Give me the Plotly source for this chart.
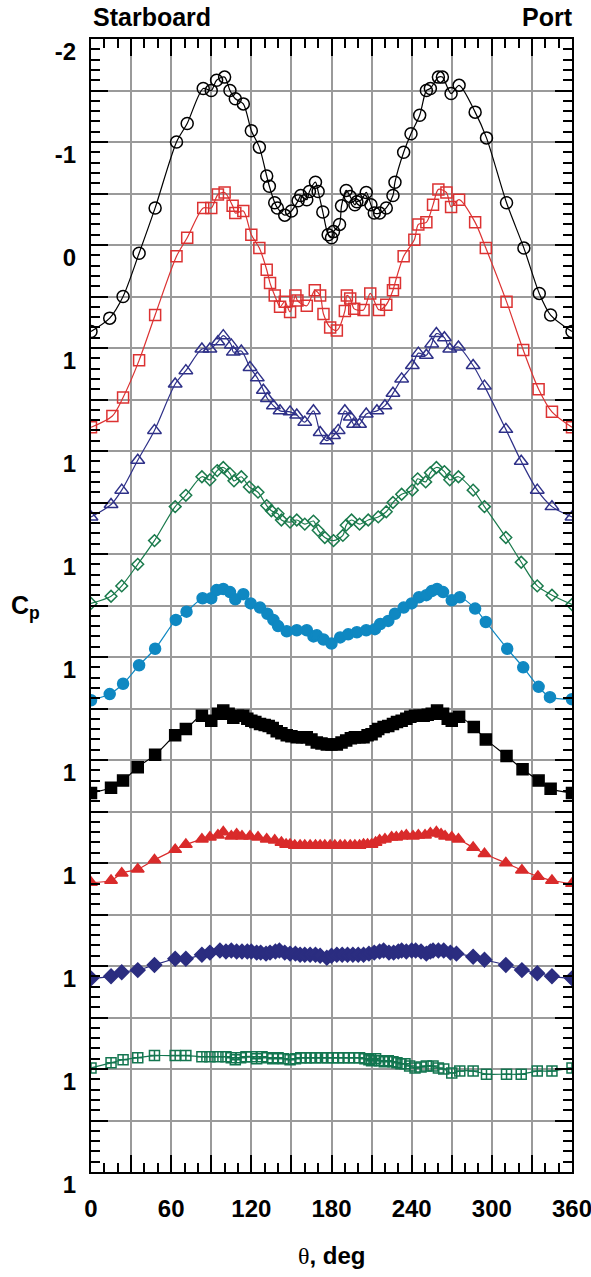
import plotly.graph_objects as go

# ---------------- data (theta in deg, plotted Cp position on the stacked axis) ----------------
theta_1 = [0, 14, 24, 36, 48, 64, 72, 84, 90, 94, 100, 104, 108, 114, 120, 126, 131.5, 133.5, 137.5, 139.5,
           145, 150, 155, 157, 161.5, 163.5, 168, 170, 173.5, 177.5, 180, 181.5, 186, 187.5, 191, 194, 197.5,
           199, 202.5, 206, 209.5, 212, 216, 221, 226, 227.5, 234, 239.5, 246, 251, 254, 260, 263, 269.5,
           275.5, 287.5, 296, 311, 324, 335.5, 344, 360]
cp_1 = [0.84, 0.71, 0.50, 0.08, -0.36, -1.00, -1.18, -1.52, -1.50, -1.60, -1.63, -1.50, -1.42, -1.37, -1.11,
        -0.95, -0.67, -0.57, -0.41, -0.36, -0.29, -0.33, -0.43, -0.48, -0.44, -0.52, -0.61, -0.52, -0.32, -0.10,
        -0.07, -0.13, -0.20, -0.38, -0.53, -0.47, -0.39, -0.42, -0.44, -0.51, -0.39, -0.31, -0.31, -0.36, -0.48,
        -0.61, -0.90, -1.08, -1.26, -1.50, -1.52, -1.63, -1.63, -1.47, -1.55, -1.29, -1.04, -0.41, 0.03, 0.47,
        0.68, 0.84]

theta_2 = [0, 16, 24, 36, 48, 64, 72, 84, 90, 95, 100, 106, 108, 114, 120, 126, 131.5, 134, 137.5, 141.5,
           145, 149, 153, 154.5, 161.5, 167.5, 171.5, 174, 179, 184, 190, 191.5, 194, 197, 204, 209, 215.5,
           221, 226, 227.5, 234, 242, 245, 251, 256, 260, 266, 269.5, 275.5, 287.5, 295.5, 311, 323.5, 335,
           345, 360]
cp_2 = [1.77, 1.66, 1.48, 1.12, 0.68, 0.11, -0.07, -0.36, -0.36, -0.49, -0.51, -0.38, -0.31, -0.33, -0.10,
        0.03, 0.24, 0.37, 0.49, 0.60, 0.55, 0.65, 0.49, 0.54, 0.59, 0.44, 0.49, 0.67, 0.80, 0.83, 0.64, 0.49,
        0.52, 0.62, 0.63, 0.47, 0.63, 0.58, 0.44, 0.37, 0.11, -0.05, -0.20, -0.22, -0.39, -0.54, -0.51, -0.37,
        -0.44, -0.22, 0.03, 0.55, 1.02, 1.40, 1.62, 1.77]

theta_3 = [0, 15, 23, 35, 47.5, 63, 71, 83, 89, 95, 99, 105, 106.5, 112.5, 119, 124.5, 129, 132, 136.5, 141.5,
           149, 154, 160, 166.5, 171.5, 176.5, 181.5, 185, 190, 194, 196.5, 201, 206, 214, 220, 226, 232.5,
           240.5, 245, 251, 255, 258.5, 264.5, 268.5, 275, 286, 294.5, 310.5, 322, 334, 345, 360]
cp_3 = [2.64, 2.52, 2.38, 2.09, 1.80, 1.35, 1.22, 1.01, 1.01, 0.94, 0.88, 0.97, 1.04, 1.03, 1.19, 1.29, 1.41,
        1.49, 1.56, 1.61, 1.62, 1.65, 1.72, 1.61, 1.82, 1.90, 1.85, 1.80, 1.61, 1.67, 1.74, 1.74, 1.64, 1.61,
        1.56, 1.44, 1.30, 1.17, 1.05, 1.07, 0.96, 0.86, 0.90, 1.01, 0.99, 1.17, 1.37, 1.79, 2.10, 2.38, 2.54,
        2.64]

theta_4 = [0, 15, 23, 35, 47.5, 63, 71, 83, 89, 94.5, 99, 104, 107, 112.5, 118.5, 125, 131.5, 135, 140, 142.5,
           149, 154, 160, 166.5, 170, 175, 181.5, 188.5, 191, 195, 201, 207.5, 215, 221, 226, 232.5, 240.5,
           244.5, 250.5, 254, 258.5, 264.5, 268.5, 275, 286, 294.5, 310.5, 322, 334, 345, 360]
cp_4 = [3.48, 3.41, 3.31, 3.10, 2.87, 2.54, 2.43, 2.25, 2.28, 2.19, 2.16, 2.22, 2.29, 2.25, 2.35, 2.40, 2.53,
        2.58, 2.61, 2.67, 2.69, 2.67, 2.71, 2.68, 2.77, 2.84, 2.87, 2.82, 2.72, 2.67, 2.71, 2.67, 2.64, 2.59,
        2.50, 2.42, 2.38, 2.27, 2.30, 2.21, 2.16, 2.20, 2.28, 2.25, 2.38, 2.54, 2.84, 3.08, 3.31, 3.40, 3.49]

theta_5 = [0, 14, 24, 36, 48, 63.5, 71.5, 83.5, 90, 94, 99, 104, 108, 114, 119.5, 126.5, 132, 136.5, 140,
           146.5, 154, 161.5, 166.5, 169, 174, 180, 186.5, 192.5, 199, 206, 212.5, 216.5, 222.5, 227.5, 234,
           240, 245.5, 251, 255, 259, 263.5, 270, 276, 287.5, 295.5, 311.5, 323.5, 335, 343.5, 360]
cp_5 = [4.42, 4.36, 4.26, 4.08, 3.92, 3.64, 3.56, 3.43, 3.43, 3.35, 3.34, 3.37, 3.44, 3.39, 3.48, 3.52, 3.58,
        3.64, 3.70, 3.75, 3.74, 3.74, 3.80, 3.79, 3.83, 3.87, 3.81, 3.78, 3.76, 3.74, 3.73, 3.68, 3.65, 3.58,
        3.52, 3.48, 3.42, 3.40, 3.36, 3.34, 3.37, 3.45, 3.42, 3.53, 3.66, 3.92, 4.10, 4.29, 4.39, 4.41]

theta_6 = [0, 15, 24, 35, 48, 63, 71, 83, 90, 95, 99, 103, 106.5, 110, 114, 117, 120, 123, 126.5, 130, 133,
           136, 139, 142.5, 146.5, 150, 154, 158, 161.5, 165, 169, 172.5, 176.5, 180, 184, 187.5, 191, 194.5,
           197.5, 201, 204, 207, 210, 213, 215, 219, 222.5, 226, 229, 232.5, 236, 239, 242.5, 246, 249, 252,
           255, 259, 263.5, 267, 270, 275.5, 286.5, 295.5, 311, 323, 335, 344, 360]
cp_6 = [5.32, 5.27, 5.20, 5.07, 4.95, 4.76, 4.70, 4.57, 4.62, 4.55, 4.52, 4.55, 4.59, 4.57, 4.57, 4.60, 4.62,
        4.63, 4.65, 4.66, 4.67, 4.69, 4.72, 4.74, 4.76, 4.77, 4.78, 4.78, 4.78, 4.80, 4.83, 4.84, 4.85, 4.85,
        4.85, 4.83, 4.81, 4.79, 4.78, 4.78, 4.78, 4.76, 4.75, 4.72, 4.70, 4.68, 4.67, 4.65, 4.63, 4.62, 4.60,
        4.58, 4.57, 4.57, 4.57, 4.56, 4.55, 4.52, 4.55, 4.60, 4.62, 4.58, 4.68, 4.80, 4.96, 5.09, 5.20, 5.28,
        5.32]

theta_7 = [0, 15, 23, 35, 47.5, 63, 71, 83, 89, 95, 99, 105, 109, 113, 119, 125, 131.5, 137.5, 142.5, 146,
           149, 152.5, 156.5, 160, 164, 168, 171.5, 175, 179, 182.5, 186.5, 190, 194, 197.5, 201, 204, 207,
           210, 213, 216, 220, 225, 228.5, 232.5, 236, 241, 245, 250, 254, 258.5, 262, 265, 270, 275, 286,
           294.5, 310.5, 322.5, 334.5, 345, 360]
cp_7 = [6.19, 6.17, 6.10, 6.06, 5.97, 5.87, 5.82, 5.77, 5.75, 5.73, 5.70, 5.74, 5.72, 5.74, 5.74, 5.75, 5.77,
        5.78, 5.80, 5.82, 5.82, 5.83, 5.83, 5.83, 5.83, 5.83, 5.83, 5.83, 5.83, 5.83, 5.83, 5.83, 5.83, 5.83,
        5.83, 5.82, 5.82, 5.82, 5.80, 5.78, 5.77, 5.75, 5.75, 5.74, 5.73, 5.74, 5.73, 5.73, 5.71, 5.70, 5.72,
        5.74, 5.75, 5.77, 5.85, 5.91, 6.00, 6.07, 6.13, 6.17, 6.20]

theta_8 = [0, 15, 23, 35, 47.5, 63, 71, 83, 89, 96.5, 101, 105, 109, 113, 117, 120, 124, 127, 131, 134, 138,
           141, 145, 149, 153, 156.5, 160, 164, 168, 171.5, 176.5, 180, 184, 188, 192, 196, 200, 204, 208, 212,
           216, 219, 223, 226.5, 230, 232.5, 236, 240, 243, 247, 251, 254, 256, 260, 264, 269, 273.5, 286,
           294.5, 310.5, 322.5, 334, 345, 360]
cp_8 = [7.12, 7.10, 7.06, 7.04, 6.99, 6.93, 6.93, 6.89, 6.87, 6.85, 6.86, 6.85, 6.86, 6.86, 6.86, 6.86, 6.87,
        6.87, 6.88, 6.87, 6.86, 6.85, 6.87, 6.88, 6.88, 6.89, 6.89, 6.89, 6.89, 6.90, 6.92, 6.90, 6.89, 6.89,
        6.89, 6.89, 6.89, 6.89, 6.88, 6.87, 6.86, 6.85, 6.87, 6.87, 6.86, 6.85, 6.86, 6.85, 6.85, 6.86, 6.88,
        6.86, 6.85, 6.85, 6.85, 6.87, 6.88, 6.91, 6.94, 6.99, 7.04, 7.07, 7.10, 7.12]

theta_9 = [0, 15, 24, 35, 47.5, 63, 71, 83, 89, 95, 101, 105, 108, 112, 116, 120, 124, 128, 132, 136, 140,
           144, 149, 153, 157, 161, 164, 168, 172.5, 177, 181, 185, 189, 193, 197, 201, 205, 208, 210, 213, 216,
           219.5, 222.5, 226, 229, 232, 235, 238.5, 242.5, 247, 251, 256, 260, 264, 270, 276, 286, 296, 311,
           322, 334, 345, 360]
cp_9 = [7.99, 7.94, 7.91, 7.89, 7.87, 7.87, 7.87, 7.88, 7.88, 7.88, 7.88, 7.89, 7.91, 7.89, 7.88, 7.88, 7.90,
        7.88, 7.89, 7.90, 7.89, 7.90, 7.91, 7.90, 7.89, 7.89, 7.89, 7.89, 7.89, 7.89, 7.89, 7.89, 7.89, 7.89,
        7.89, 7.89, 7.90, 7.91, 7.92, 7.90, 7.92, 7.93, 7.92, 7.93, 7.94, 7.95, 7.95, 7.97, 7.99, 7.98, 7.97,
        7.97, 7.99, 8.00, 8.04, 8.02, 8.02, 8.05, 8.05, 8.05, 8.02, 8.02, 7.99]

x_tick_values = [0, 30, 60, 90, 120, 150, 180, 210, 240, 270, 300, 330, 360]
x_tick_labels = ["0", "", "60", "", "120", "", "180", "", "240", "", "300", "", "360"]
y_tick_values = [-2, -1.5, -1, -0.5, 0, 0.5, 1, 1.5, 2, 2.5, 3, 3.5, 4, 4.5, 5, 5.5, 6, 6.5, 7, 7.5, 8, 8.5, 9]
y_tick_labels = ["-2", "", "-1", "", "0", "", "1", "", "1", "", "1", "", "1", "", "1", "", "1", "", "1", "",
                 "1", "", "1"]

# ---------------- styles ----------------
series = [
    (theta_1, cp_1, "circle-open", "#000000", 12),
    (theta_2, cp_2, "square-open", "#dc3232", 11),
    (theta_3, cp_3, "triangle-up-open", "#2e3088", 12),
    (theta_4, cp_4, "diamond-open", "#1a7a4c", 9),
    (theta_5, cp_5, "circle", "#0f88c2", 11),
    (theta_6, cp_6, "square", "#000000", 11),
    (theta_7, cp_7, "triangle-up", "#d92b2b", 11),
    (theta_8, cp_8, "diamond", "#2b2d80", 11),
    (theta_9, cp_9, "square-cross-open", "#137650", 10),
]

FONT = "Liberation Sans, Arial, Helvetica, sans-serif"

fig = go.Figure()
for th, cp, sym, col, sz in series:
    fig.add_trace(go.Scatter(
        x=th, y=cp, mode="lines+markers",
        line=dict(color=col, width=1.2, shape="spline", smoothing=0.8),
        marker=dict(symbol=sym, size=sz, color=col, line=dict(color=col, width=1.5)),
        showlegend=False,
    ))

fig.update_xaxes(
    automargin=False,
    range=[0, 360], tickmode="array", tickvals=x_tick_values, ticktext=x_tick_labels,
    showgrid=True, gridcolor="#9a9a9a", gridwidth=1.6, zeroline=False,
    showline=True, linecolor="black", linewidth=2, mirror="ticks",
    ticks="inside", ticklen=17, tickwidth=2, tickcolor="black",
    minor=dict(dtick=10, tick0=0, ticks="inside", ticklen=9, tickwidth=2, tickcolor="black", showgrid=False),
    tickfont=dict(family=FONT, size=24, color="black", weight="bold"),
    ticklabelstandoff=14, ticklabeloverflow="allow",
)
fig.update_yaxes(
    automargin=False,
    range=[9, -2], tickmode="array", tickvals=y_tick_values, ticktext=y_tick_labels,
    showgrid=True, gridcolor="#9a9a9a", gridwidth=1.6, zeroline=False,
    showline=True, linecolor="black", linewidth=2, mirror="ticks",
    ticks="inside", ticklen=17, tickwidth=2, tickcolor="black",
    minor=dict(dtick=0.1, tick0=-2, ticks="inside", ticklen=9, tickwidth=2, tickcolor="black", showgrid=False),
    tickfont=dict(family=FONT, size=24, color="black", weight="bold"),
    ticklabelstandoff=8, ticklabelshift=-13, ticklabeloverflow="allow",
)

ann_font = dict(family=FONT, size=25, color="black", weight="bold")
fig.update_layout(
    width=591, height=1277,
    margin=dict(l=91, r=19, t=39, b=105),
    paper_bgcolor="white", plot_bgcolor="white",
    annotations=[
        dict(text="Starboard", xref="paper", yref="paper", x=0.0, y=1.0194, xanchor="left", yanchor="middle",
             showarrow=False, font=ann_font),
        dict(text="Port", xref="paper", yref="paper", x=1.006, y=1.0194, xanchor="right", yanchor="middle",
             showarrow=False, font=ann_font),
        dict(text="<span style=\"font-family:'Liberation Serif';font-weight:normal\">θ</span>, deg",
             xref="paper", yref="paper", x=0.5, y=-0.0733, xanchor="center", yanchor="middle",
             showarrow=False, font=dict(family=FONT, size=24, color="black", weight="bold")),
        dict(text="C<sub>p</sub>", xref="paper", yref="paper", x=-0.137, y=0.499, xanchor="center",
             yanchor="middle", showarrow=False, font=dict(family=FONT, size=25, color="black", weight="bold")),
    ],
)

fig.write_html("out.html", config={"displayModeBar": False},
               post_script="document.body.style.margin='0';document.body.style.overflow='hidden';")
